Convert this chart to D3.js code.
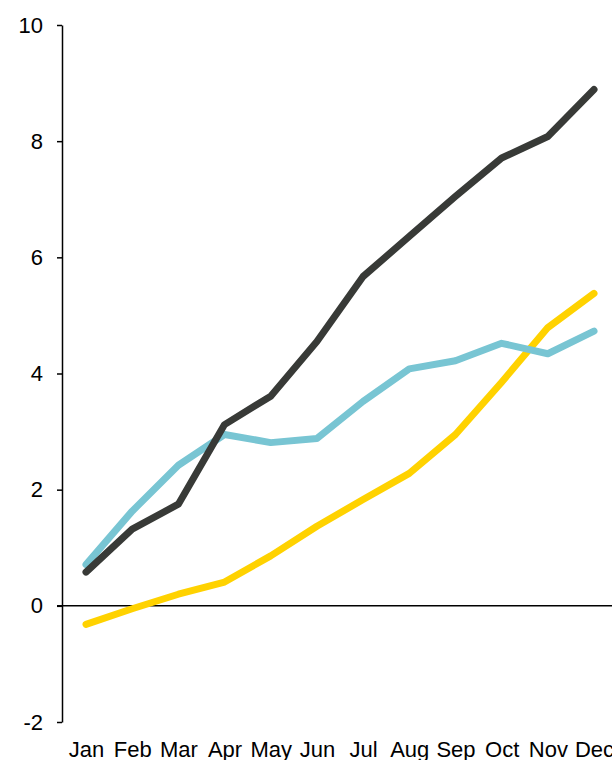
<!DOCTYPE html>
<html>
<head>
<meta charset="utf-8">
<script src="https://cdn.jsdelivr.net/npm/d3@7/dist/d3.min.js"></script>
<style>
  html, body { margin: 0; padding: 0; background: #fff; }
  svg { display: block; font-family: "Liberation Sans", Arial, sans-serif; }
</style>
</head>
<body>
<svg id="chart" width="612" height="760"></svg>
<script>
// Monthly categories
const months = ["Jan", "Feb", "Mar", "Apr", "May", "Jun", "Jul", "Aug", "Sep", "Oct", "Nov", "Dec"];

// Series values
const seriesDark   = [0.58, 1.32, 1.75, 3.12, 3.61, 4.55, 5.67, 6.36, 7.05, 7.71, 8.08, 8.89];
const seriesBlue   = [0.71, 1.63, 2.42, 2.95, 2.81, 2.88, 3.52, 4.08, 4.22, 4.52, 4.34, 4.73];
const seriesYellow = [-0.32, -0.05, 0.20, 0.41, 0.86, 1.37, 1.83, 2.28, 2.95, 3.85, 4.79, 5.38];

// Y tick values
const yTicks = [-2, 0, 2, 4, 6, 8, 10];

const svg = d3.select("#chart");

const x = d3.scalePoint().domain(months).range([86, 594]);
const y = d3.scaleLinear().domain([-2, 10]).range([722, 25]);

// Y axis
const yAxis = svg.append("g")
  .attr("transform", "translate(62,0)")
  .call(d3.axisLeft(y).tickValues(yTicks).tickSize(5).tickSizeOuter(0).tickPadding(14)
    .tickFormat(d => String(d)));
yAxis.select(".domain").attr("stroke", "#000").attr("stroke-width", 1.5);
yAxis.selectAll(".tick line").attr("stroke", "#000").attr("stroke-width", 1.5);
yAxis.selectAll(".tick text").attr("font-size", 22).attr("fill", "#000")
  .attr("font-family", "'Liberation Sans', Arial, sans-serif");

// X axis labels (no axis line)
const xAxis = svg.append("g")
  .attr("transform", "translate(0,737)")
  .call(d3.axisBottom(x).tickSize(0).tickPadding(0));
xAxis.select(".domain").remove();
xAxis.selectAll(".tick text").attr("font-size", 22).attr("fill", "#000")
  .attr("dy", "0.9em")
  .attr("font-family", "'Liberation Sans', Arial, sans-serif");

// Zero baseline
svg.append("line")
  .attr("x1", 57).attr("x2", 612)
  .attr("y1", y(0)).attr("y2", y(0))
  .attr("stroke", "#000").attr("stroke-width", 1.5);

const line = d3.line().x((d, i) => x(months[i])).y(d => y(d));

const series = [
  { values: seriesYellow, color: "#FFD200" },
  { values: seriesBlue,   color: "#78C5D3" },
  { values: seriesDark,   color: "#383A37" }
];

svg.selectAll("path.series")
  .data(series)
  .join("path")
  .attr("class", "series")
  .attr("d", d => line(d.values))
  .attr("fill", "none")
  .attr("stroke", d => d.color)
  .attr("stroke-width", 7)
  .attr("stroke-linecap", "round")
  .attr("stroke-linejoin", "round");
</script>
</body>
</html>
